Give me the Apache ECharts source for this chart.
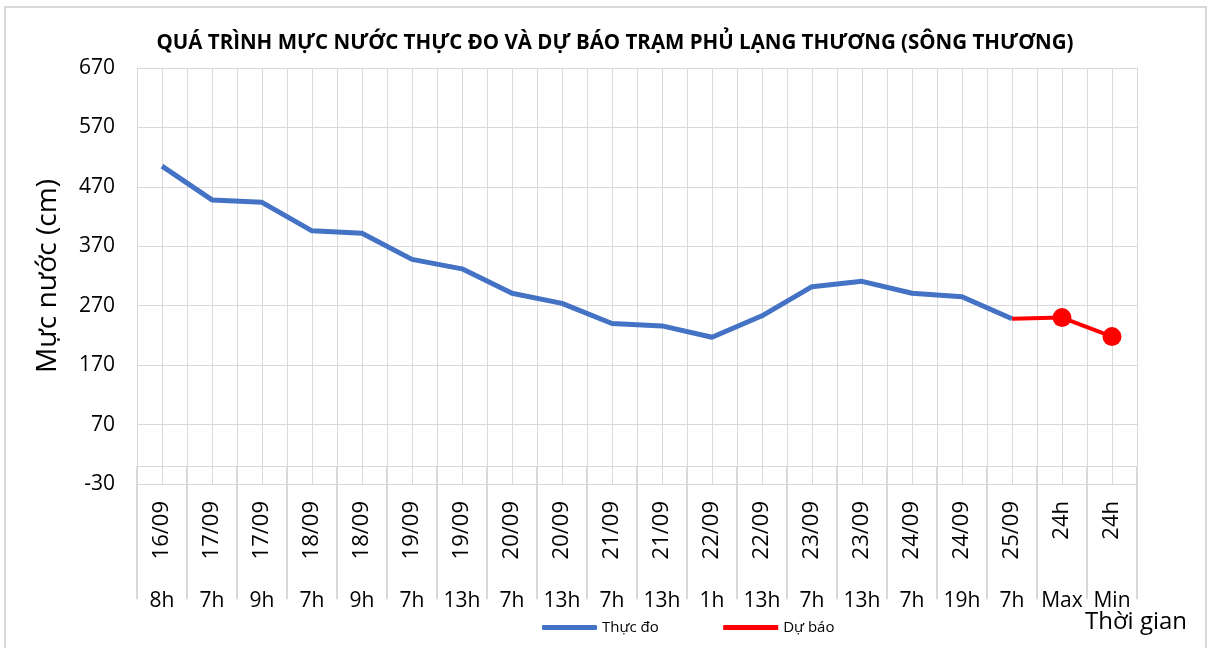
<!DOCTYPE html>
<html>
<head>
<meta charset="utf-8">
<script src="https://cdn.jsdelivr.net/npm/echarts@6/dist/echarts.min.js"></script>
<style>
  html, body { margin: 0; padding: 0; background: #fff; }
  #chart { width: 1207px; height: 648px; }
</style>
</head>
<body>
<div id="chart"></div>
<script>
// ngày và giờ đo
const dates = ['16/09', '17/09', '17/09', '18/09', '18/09', '19/09', '19/09', '20/09', '20/09', '21/09',
  '21/09', '22/09', '22/09', '23/09', '23/09', '24/09', '24/09', '25/09', '24h', '24h']
const hours = ['8h', '7h', '9h', '7h', '9h', '7h', '13h', '7h', '13h', '7h',
  '13h', '1h', '13h', '7h', '13h', '7h', '19h', '7h', 'Max', 'Min']
// mực nước (cm)
const thucDo = [505, 448, 444, 396, 392, 348, 332, 291, 274, 240,
  236, 217, 253, 302, 311, 291, 285, 248, null, null]
const duBao = [null, null, null, null, null, null, null, null, null, null,
  null, null, null, null, null, null, null, 248, 250, 218]
const yTicks = { min: -30, max: 670, interval: 100 }

const font = 'Open Sans, Noto Sans, sans-serif'
const gridColor = '#d9d9d9'

// lưới dọc phụ: nửa ô danh mục
const halfCats = []
for (let i = 0; i < dates.length * 2; i++) halfCats.push('')

const chart = echarts.init(document.getElementById('chart'))
chart.setOption({
  animation: false,
  textStyle: { fontFamily: font },
  title: {
    text: 'QUÁ TRÌNH MỰC NƯỚC THỰC ĐO VÀ DỰ BÁO TRẠM PHỦ LẠNG THƯƠNG (SÔNG THƯƠNG)',
    left: 610,
    textAlign: 'center',
    top: 28,
    textStyle: { fontFamily: font, fontSize: 20.5, fontWeight: 'bold', color: '#000' }
  },
  grid: { left: 137, right: 70, top: 68, bottom: 164 },
  legend: {
    bottom: 8,
    left: 537,
    itemWidth: 55,
    itemHeight: 5,
    itemGap: 62,
    textStyle: { fontSize: 15, color: '#000' },
    data: [
      { name: 'Thực đo', icon: 'roundRect' },
      { name: 'Dự báo', lineStyle: { width: 5 } }
    ]
  },
  xAxis: [
    {
      type: 'category',
      data: dates,
      axisLine: { lineStyle: { color: gridColor } },
      axisTick: { show: true, interval: 0, length: 133, lineStyle: { color: gridColor, width: 2 } },
      axisLabel: { interval: 0, rotate: 90, margin: 17, fontSize: 22, color: '#000' }
    },
    {
      type: 'category',
      position: 'bottom',
      data: hours,
      axisLine: { show: false },
      axisTick: { show: false },
      axisLabel: { interval: 0, margin: 107, fontSize: 21, color: '#000' }
    },
    {
      type: 'category',
      data: halfCats,
      axisLine: { show: false },
      axisTick: { show: false },
      axisLabel: { show: false },
      splitLine: { show: true, interval: 0, lineStyle: { color: gridColor } }
    }
  ],
  yAxis: {
    type: 'value',
    min: yTicks.min,
    max: yTicks.max,
    interval: yTicks.interval,
    name: 'Mực nước (cm)',
    nameLocation: 'middle',
    nameGap: 75,
    nameTextStyle: { fontSize: 28, color: '#000' },
    axisLine: { show: true, lineStyle: { color: gridColor } },
    axisTick: { show: false },
    axisLabel: { fontSize: 21, color: '#000', margin: 22 },
    splitLine: { lineStyle: { color: gridColor } }
  },
  graphic: [
    {
      type: 'rect',
      shape: { x: 5, y: 7, width: 1201, height: 700 },
      style: { fill: 'none', stroke: gridColor, lineWidth: 2 },
      silent: true
    },
    {
      type: 'text',
      left: 1085,
      top: 610,
      style: { text: 'Thời gian', font: '24px ' + font, fill: '#000' }
    }
  ],
  series: [
    {
      name: 'Thực đo',
      type: 'line',
      data: thucDo,
      symbol: 'none',
      lineStyle: { color: '#4472c4', width: 5 },
      itemStyle: { color: '#4472c4' }
    },
    {
      name: 'Dự báo',
      type: 'line',
      data: duBao,
      symbol: function (v, p) { return p.dataIndex >= 18 ? 'circle' : 'none' },
      symbolSize: 19,
      lineStyle: { color: '#ff0000', width: 4 },
      itemStyle: { color: '#ff0000' }
    }
  ]
})
</script>
</body>
</html>
